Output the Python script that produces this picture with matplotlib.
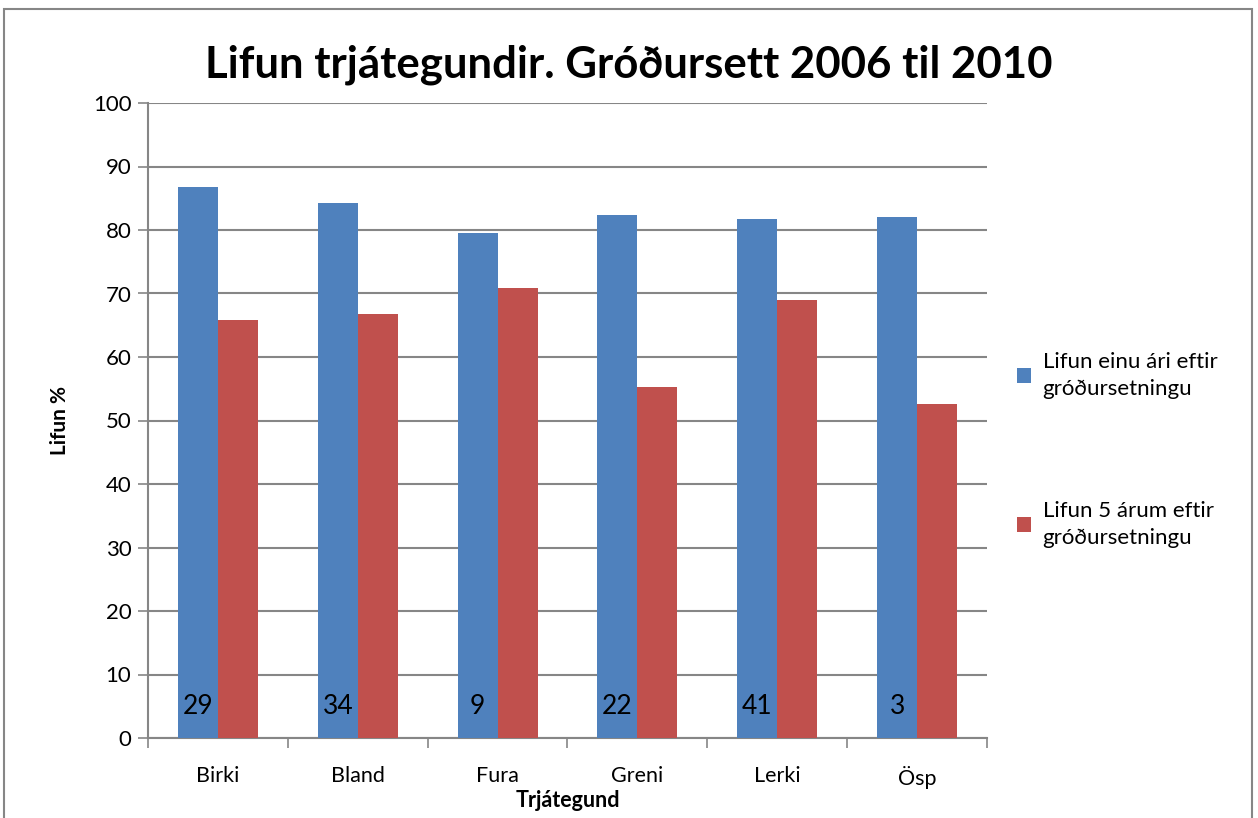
import numpy as np
import matplotlib.pyplot as plt
from matplotlib.patches import Rectangle

categories = ['Birki', 'Bland', 'Fura', 'Greni', 'Lerki', 'Ösp']
lifun_1ar = [86.8, 84.2, 79.6, 82.4, 81.7, 82.0]
lifun_5ar = [65.8, 66.7, 70.9, 55.2, 68.9, 52.6]
fjoldi = [29, 34, 9, 22, 41, 3]
labels = ['Lifun einu ári eftir\ngróðursetningu', 'Lifun 5 árum eftir\ngróðursetningu']

plt.rcParams['font.family'] = ['Lato', 'DejaVu Sans']

fig = plt.figure(figsize=(12.58, 8.18), dpi=100)
ax = fig.add_axes([148/1258, 80/818, 839/1258, 635/818])

x = np.arange(len(categories))
w = 0.286
ax.bar(x - w/2, lifun_1ar, w, color='#4F81BD', label=labels[0], zorder=3)
ax.bar(x + w/2, lifun_5ar, w, color='#C0504D', label=labels[1], zorder=3)

for xi, n in zip(x, fjoldi):
    ax.text(xi - w/2, 5, str(n), ha='center', va='center', fontsize=19, zorder=4)

ax.set_xlim(-0.5, len(categories) - 0.5)
ax.set_ylim(0, 100)
ax.set_yticks(range(0, 101, 10))
ax.set_xticks(x)
ax.set_xticklabels(categories, fontsize=15.5)
ax.set_xticks(np.arange(-0.5, len(categories)), minor=True)
ax.tick_params(axis='x', which='major', length=0, pad=20)
ax.tick_params(axis='x', which='minor', length=7, width=1.2, color='#868686')
ax.tick_params(axis='y', length=7, width=1.2, color='#868686', labelsize=16, pad=5)
ax.grid(axis='y', color='#868686', linewidth=1.5, zorder=0)

for s in ['top', 'right']:
    ax.spines[s].set_visible(False)
for s in ['left', 'bottom']:
    ax.spines[s].set_color('#868686')
    ax.spines[s].set_linewidth(1.5)

ax.set_ylabel('Lifun %', fontsize=15, fontweight='bold', labelpad=16)
ax.set_xlabel('Trjátegund', fontsize=15.5, fontweight='bold', labelpad=1)
fig.suptitle('Lifun trjátegundir. Gróðursett 2006 til 2010', fontsize=31.5,
             fontweight='bold', y=0.945)

leg = fig.legend(loc='center left', bbox_to_anchor=(997/1258, 1 - 450/818), frameon=False,
                 fontsize=16, handlelength=0.65, handleheight=0.65, handletextpad=0.5,
                 labelspacing=4.6)
for t in leg.get_texts():
    t.set_linespacing(1.45)

fig.patches.append(Rectangle((4/1258, -0.1), 1248/1258, 1.1 - 9/818,
                             transform=fig.transFigure, fill=False,
                             edgecolor='#868686', linewidth=1.5))

plt.savefig('out.png')
